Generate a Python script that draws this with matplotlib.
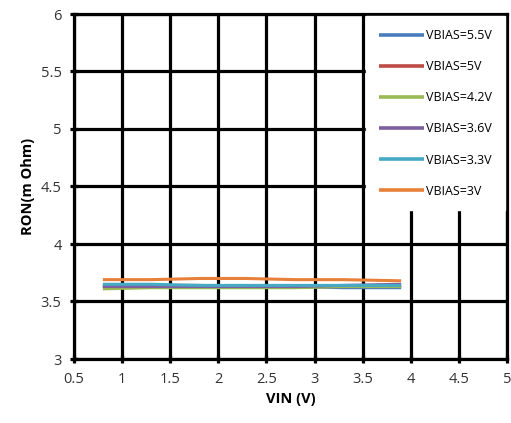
import matplotlib.pyplot as plt
from matplotlib.ticker import FuncFormatter

# VIN (V) sample points
vin = [0.8, 1.3, 1.8, 2.3, 2.8, 3.3, 3.9]

# RON (m Ohm) per VBIAS
ron_55 = [3.63, 3.63, 3.63, 3.63, 3.63, 3.62, 3.62]
ron_50 = [3.64, 3.64, 3.64, 3.63, 3.63, 3.63, 3.63]
ron_42 = [3.61, 3.62, 3.62, 3.62, 3.62, 3.63, 3.63]
ron_36 = [3.63, 3.63, 3.63, 3.63, 3.63, 3.64, 3.65]
ron_33 = [3.65, 3.65, 3.64, 3.64, 3.64, 3.64, 3.64]
ron_30 = [3.69, 3.69, 3.70, 3.70, 3.69, 3.69, 3.68]

series = [
    ('VBIAS=5.5V', ron_55, '#4a7ebb'),
    ('VBIAS=5V',   ron_50, '#be4b48'),
    ('VBIAS=4.2V', ron_42, '#98b954'),
    ('VBIAS=3.6V', ron_36, '#7d60a0'),
    ('VBIAS=3.3V', ron_33, '#46aac5'),
    ('VBIAS=3V',   ron_30, '#e8803a'),
]

plt.rcParams['font.family'] = ['Open Sans', 'DejaVu Sans']

fig = plt.figure(figsize=(5.11, 4.23), dpi=100)
ax = fig.add_axes([74/511, 1 - 359/423, (507 - 74)/511, (359 - 14)/423])

for name, vals, color in series:
    ax.plot(vin, vals, color=color, lw=2.2, label=name, solid_capstyle='butt')

ax.set_xlim(0.5, 5)
ax.set_ylim(3, 6)
ax.set_xticks([0.5, 1, 1.5, 2, 2.5, 3, 3.5, 4, 4.5, 5])
ax.set_yticks([3, 3.5, 4, 4.5, 5, 5.5, 6])
fmt = FuncFormatter(lambda v, p: f'{v:g}')
ax.xaxis.set_major_formatter(fmt)
ax.yaxis.set_major_formatter(fmt)
ax.grid(True, color='black', lw=2.3)
ax.set_axisbelow(True)
for s in ax.spines.values():
    s.set_color('black')
    s.set_linewidth(2.3)
ax.tick_params(direction='inout', length=6, width=2.3, labelsize=10.5,
               colors='black', labelcolor='#333333', pad=6)

ax.set_xlabel('VIN (V)', fontsize=10.5, fontweight='bold', labelpad=4)
ax.set_ylabel('RON(m Ohm)', fontsize=10.5, fontweight='bold', labelpad=4)

leg = ax.legend(loc='upper right', bbox_to_anchor=(1.0, 1.0), fontsize=9,
                frameon=True, fancybox=False, framealpha=1, edgecolor='white',
                handlelength=3.6, handletextpad=0.2, labelspacing=1.45,
                borderpad=1.0, borderaxespad=0.2)
for h in leg.get_lines():
    h.set_linewidth(2.6)

fig.savefig('out.png', dpi=100)
